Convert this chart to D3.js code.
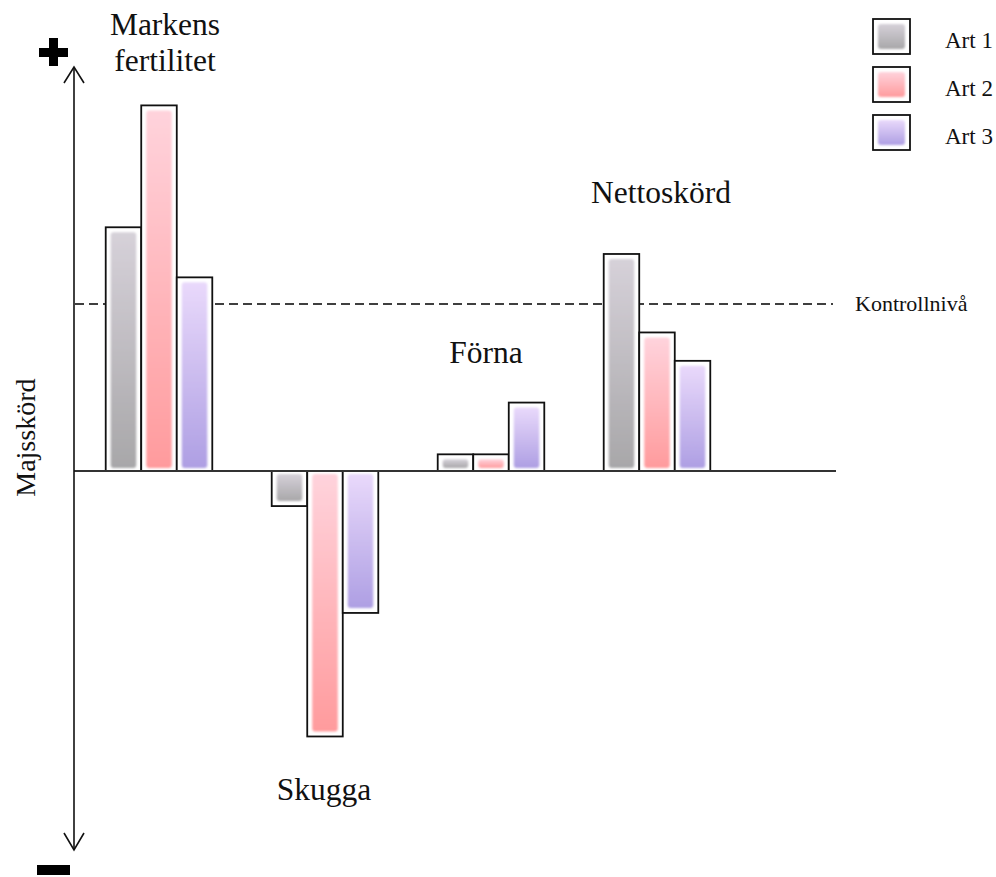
<!DOCTYPE html>
<html>
<head>
<meta charset="utf-8">
<script src="https://cdn.jsdelivr.net/npm/d3@7"></script>
<style>
  html, body { margin: 0; padding: 0; background: #fff; }
  svg { display: block; }
  text { font-family: "Liberation Serif", "Times New Roman", serif; fill: #111; }
</style>
</head>
<body>
<svg id="chart" width="996" height="877"></svg>
<script>
// Effects on maize yield per factor and intercrop species (control level = 100)
const groups = ["Markens fertilitet", "Skugga", "Förna", "Nettoskörd"];
const series = ["Art 1", "Art 2", "Art 3"];
const art1 = [146, -21, 10, 130];
const art2 = [219, -159, 10, 83];
const art3 = [116, -85, 41, 66];
const controlLevel = 100;
const axisDomain = [-227, 242];
const yLabel = "Majsskörd";
const controlLabel = "Kontrollnivå";

const values = [art1, art2, art3];
const colors = [
  { top: "#d6d1d9", bottom: "#a8a7a9" },
  { top: "#ffd3dc", bottom: "#ff9b9d" },
  { top: "#e9d9fb", bottom: "#ae9fe3" }
];

const svg = d3.select("#chart");
const defs = svg.append("defs");

colors.forEach((c, i) => {
  const g = defs.append("linearGradient")
    .attr("id", "grad" + i).attr("x1", 0).attr("y1", 0).attr("x2", 0).attr("y2", 1);
  g.append("stop").attr("offset", "0%").attr("stop-color", c.top);
  g.append("stop").attr("offset", "100%").attr("stop-color", c.bottom);
});
defs.append("filter").attr("id", "soft")
  .attr("x", "-20%").attr("y", "-20%").attr("width", "140%").attr("height", "140%")
  .append("feGaussianBlur").attr("stdDeviation", 0.8);

const y = d3.scaleLinear().domain(axisDomain).range([850, 67]);
const x = d3.scaleBand().domain(groups).range([76, 740])
  .paddingInner(0.358).paddingOuter(0.179);
const xs = d3.scaleBand().domain(series).range([0, x.bandwidth()]);

const axisX = 74;
const lineEnd = 836;

// control level (dashed)
svg.append("line")
  .attr("x1", axisX + 1).attr("x2", lineEnd - 3)
  .attr("y1", y(controlLevel)).attr("y2", y(controlLevel))
  .attr("stroke", "#000").attr("stroke-width", 1.5)
  .attr("stroke-dasharray", "9,5");

svg.append("text")
  .attr("x", 855).attr("y", y(controlLevel) + 7)
  .attr("font-size", 22)
  .text(controlLabel);

// bars
const inset = 5;
groups.forEach((grp, gi) => {
  series.forEach((s, si) => {
    const v = values[si][gi];
    const x0 = x(grp) + xs(s);
    const w = xs.bandwidth();
    const yTop = Math.min(y(v), y(0));
    const h = Math.abs(y(v) - y(0));
    svg.append("rect")
      .attr("x", x0).attr("y", yTop).attr("width", w).attr("height", h)
      .attr("fill", "#fff").attr("stroke", "#111").attr("stroke-width", 1.8);
    const innerTop = v >= 0 ? yTop + inset : yTop + 3;
    const innerH = Math.max(h - inset - 3, 2);
    svg.append("rect")
      .attr("x", x0 + inset).attr("y", innerTop)
      .attr("width", w - 2 * inset).attr("height", innerH)
      .attr("rx", 3).attr("ry", 3)
      .attr("fill", `url(#grad${si})`)
      .attr("filter", "url(#soft)");
  });
});

// zero line
svg.append("line")
  .attr("x1", axisX).attr("x2", lineEnd)
  .attr("y1", y(0)).attr("y2", y(0))
  .attr("stroke", "#333").attr("stroke-width", 2);

// vertical double arrow
const yt = y(axisDomain[1]), yb = y(axisDomain[0]);
svg.append("line")
  .attr("x1", axisX).attr("x2", axisX).attr("y1", yt).attr("y2", yb)
  .attr("stroke", "#111").attr("stroke-width", 1.6);
svg.append("path")
  .attr("d", `M${axisX - 10},${yt + 16}L${axisX},${yt}L${axisX + 10},${yt + 16}`)
  .attr("fill", "none").attr("stroke", "#111").attr("stroke-width", 1.6);
svg.append("path")
  .attr("d", `M${axisX - 10},${yb - 17}L${axisX},${yb}L${axisX + 10},${yb - 17}`)
  .attr("fill", "none").attr("stroke", "#111").attr("stroke-width", 1.6);

// plus and minus signs
svg.append("rect").attr("x", 39).attr("y", 48).attr("width", 29).attr("height", 9).attr("fill", "#000");
svg.append("rect").attr("x", 49).attr("y", 38).attr("width", 9).attr("height", 28).attr("fill", "#000");
svg.append("rect").attr("x", 37).attr("y", 865).attr("width", 33).attr("height", 10).attr("fill", "#000");

// y label
svg.append("text")
  .attr("transform", `translate(35,${y(20)}) rotate(-90)`)
  .attr("text-anchor", "middle")
  .attr("font-size", 28)
  .text(yLabel);

// group labels
const labelFont = 31.5;
const groupLabels = [
  { lines: ["Markens", "fertilitet"], cx: 165, y0: 35 },
  { lines: ["Skugga"], cx: 324, y0: 800 },
  { lines: ["Förna"], cx: 486, y0: 363 },
  { lines: ["Nettoskörd"], cx: 661, y0: 203 }
];
groupLabels.forEach(l => {
  l.lines.forEach((t, i) => {
    svg.append("text")
      .attr("x", l.cx).attr("y", l.y0 + i * 36)
      .attr("text-anchor", "middle")
      .attr("font-size", labelFont)
      .text(t);
  });
});

// legend
const legend = svg.append("g");
series.forEach((s, i) => {
  const ly = 19 + i * 48;
  legend.append("rect")
    .attr("x", 873).attr("y", ly).attr("width", 37).attr("height", 35)
    .attr("fill", "#fff").attr("stroke", "#111").attr("stroke-width", 1.8);
  legend.append("rect")
    .attr("x", 873 + inset).attr("y", ly + inset).attr("width", 37 - 2 * inset).attr("height", 35 - 2 * inset)
    .attr("rx", 3).attr("fill", `url(#grad${i})`).attr("filter", "url(#soft)");
  legend.append("text")
    .attr("x", 945).attr("y", ly + 29)
    .attr("font-size", 23)
    .text(s);
});
</script>
</body>
</html>
